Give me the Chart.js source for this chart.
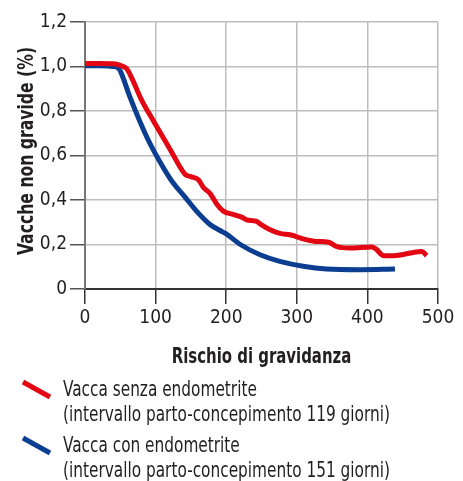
<!DOCTYPE html>
<html>
<head>
<meta charset="utf-8">
<script src="https://cdn.jsdelivr.net/npm/chart.js@4.4.0/dist/chart.umd.min.js"></script>
<style>
  html, body { margin: 0; padding: 0; background: #fff; }
  #wrap { width: 463px; height: 481px; }
</style>
</head>
<body>
<div id="wrap"><canvas id="myChart" width="463" height="481"></canvas></div>
<script>
// data
const redX = [0, 20, 40, 50, 59, 66, 80, 97, 121, 142, 150, 161, 168, 177, 187, 196, 210, 222, 229, 243, 248, 260, 276, 290, 298, 309, 326, 345, 357, 375, 406, 412, 423, 437, 477, 484];
const redY = [1.013, 1.013, 1.012, 1.005, 0.99, 0.95, 0.85, 0.755, 0.625, 0.515, 0.505, 0.49, 0.455, 0.43, 0.38, 0.35, 0.335, 0.323, 0.311, 0.304, 0.293, 0.27, 0.25, 0.244, 0.237, 0.225, 0.214, 0.21, 0.19, 0.184, 0.189, 0.18, 0.15, 0.15, 0.169, 0.15];

const blueX = [0, 20, 40, 48, 52, 64, 88, 111, 125, 140, 158, 177, 190, 199, 220, 248, 276, 309, 342, 390, 439];
const blueY = [1.003, 1.003, 1.0, 0.99, 0.965, 0.86, 0.68, 0.545, 0.476, 0.42, 0.35, 0.29, 0.265, 0.25, 0.2, 0.154, 0.124, 0.102, 0.09, 0.087, 0.09];

const xTicks = [0, 100, 200, 300, 400, 500];
const yTickLabels = ["0", "0,2", "0,4", "0,6", "0,8", "1,0", "1,2"];

const xTitle = "Rischio di gravidanza";
const yTitle = "Vacche non gravide (%)";
const seriesNames = ["Vacca senza endometrite", "Vacca con endometrite"];
const seriesNotes = ["(intervallo parto-concepimento 119 giorni)", "(intervallo parto-concepimento 151 giorni)"];
const colors = ["#e30613", "#0b3d91"];

const FONT = "'Liberation Sans Narrow', 'Arial Narrow', 'DejaVu Sans Condensed', sans-serif";
const TEXT = "#231f20";

function toPoints(xs, ys) {
  return xs.map(function (x, i) { return { x: x, y: ys[i] }; });
}

// condensed text: squeeze the glyphs horizontally
function narrowText(c, text, x, y, sx, align) {
  c.save();
  c.translate(x, y);
  c.scale(sx, 1);
  c.textAlign = align;
  c.fillText(text, 0, 0);
  c.restore();
}

// axis titles and the legend below the plot
const labelsPlugin = {
  id: "labels",
  afterDraw: function (chart) {
    const c = chart.ctx;
    const area = chart.chartArea;
    c.save();
    c.fillStyle = TEXT;
    c.textBaseline = "alphabetic";

    c.font = "bold 21px " + FONT;
    narrowText(c, xTitle, (area.left + area.right) / 2, 363, 0.79, "center");

    c.save();
    c.translate(33, 151);
    c.rotate(-Math.PI / 2);
    c.font = "bold 22px " + FONT;
    narrowText(c, yTitle, 0, 0, 0.79, "center");
    c.restore();

    const rows = [381, 437];
    rows.forEach(function (top, i) {
      c.strokeStyle = colors[i];
      c.lineWidth = 5;
      c.beginPath();
      c.moveTo(23, top + 1);
      c.lineTo(50, top + 16);
      c.stroke();
      c.font = "22px " + FONT;
      narrowText(c, seriesNames[i], 63, top + 15, 0.775, "left");
      narrowText(c, seriesNotes[i], 63, top + 40, 0.775, "left");
    });
    c.restore();
  }
};

const ctx = document.getElementById("myChart");
const myChart = new Chart(ctx, {
  type: "line",
  data: {
    datasets: [
      {
        label: seriesNames[0],
        data: toPoints(redX, redY),
        borderColor: colors[0],
        borderWidth: 5,
        pointRadius: 0,
        cubicInterpolationMode: "monotone",
        fill: false,
      },
      {
        label: seriesNames[1],
        data: toPoints(blueX, blueY),
        borderColor: colors[1],
        borderWidth: 5,
        pointRadius: 0,
        cubicInterpolationMode: "monotone",
        fill: false,
      },
    ],
  },
  options: {
    responsive: false,
    animation: false,
    layout: { padding: { top: 22, right: 25, bottom: 112, left: 0 } },
    plugins: { legend: { display: false }, tooltip: { enabled: false } },
    scales: {
      x: {
        type: "linear",
        min: 0,
        max: 500,
        afterBuildTicks: function (scale) {
          scale.ticks = xTicks.map(function (v) { return { value: v }; });
        },
        afterFit: function (scale) { scale.height = 80; },
        grid: { color: "#bdbdbd", lineWidth: 1.5, tickLength: 15, tickColor: "#333", tickWidth: 1.5 },
        border: { color: "#333", width: 2 },
        ticks: { color: TEXT, font: { family: FONT, size: 19 }, padding: 3, maxRotation: 0 },
      },
      y: {
        min: 0,
        max: 1.2,
        ticks: {
          stepSize: 0.2,
          color: TEXT,
          font: { family: FONT, size: 19 },
          padding: 3,
          callback: function (value, index) { return yTickLabels[index]; },
        },
        afterFit: function (scale) { scale.width = 85; },
        grid: { color: "#bdbdbd", lineWidth: 1.5, tickLength: 15, tickColor: "#555", tickWidth: 1.5 },
        border: { color: "#777", width: 2 },
      },
    },
  },
  plugins: [labelsPlugin],
});
</script>
</body>
</html>
